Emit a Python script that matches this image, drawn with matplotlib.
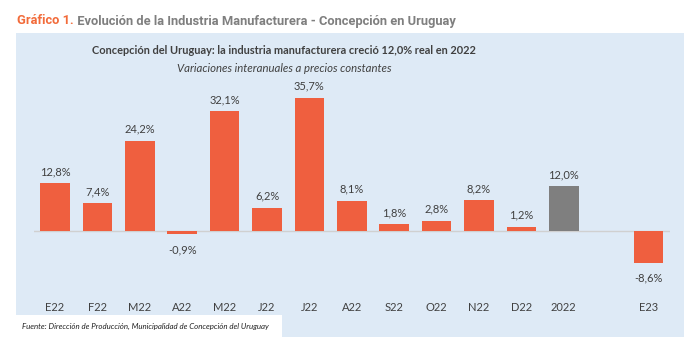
import matplotlib
matplotlib.use("Agg")
import matplotlib.pyplot as plt
from matplotlib.patches import Rectangle

categories = ["E22", "F22", "M22", "A22", "M22", "J22", "J22", "A22", "S22", "O22", "N22", "D22", "2022", "", "E23"]
values = [12.8, 7.4, 24.2, -0.9, 32.1, 6.2, 35.7, 8.1, 1.8, 2.8, 8.2, 1.2, 12.0, None, -8.6]
labels = ["12,8%", "7,4%", "24,2%", "-0,9%", "32,1%", "6,2%", "35,7%", "8,1%", "1,8%", "2,8%", "8,2%", "1,2%", "12,0%", "", "-8,6%"]

ORANGE = "#EF5F3F"
GRAY = "#7F7F7F"
PANEL = "#DEEAF6"
TXT = "#404040"
FONT = ["Lato", "DejaVu Sans"]
TFONT = ["Roboto", "DejaVu Sans"]

W, H = 684, 347
fig = plt.figure(figsize=(W / 100, H / 100), dpi=100)
fig.patch.set_facecolor("white")

def fx(px):
    return px / W

def fy(py):
    return 1 - py / H

# panel
fig.patches.append(Rectangle((fx(16), fy(337)), fx(684) - fx(16), fy(33) - fy(337),
                             transform=fig.transFigure, facecolor=PANEL, edgecolor="none", zorder=-2))
# source box
fig.patches.append(Rectangle((fx(16), fy(337)), fx(282) - fx(16), fy(315) - fy(337),
                             transform=fig.transFigure, facecolor="white", edgecolor="none", zorder=-1))

# axes
left, right = 33.8, 669.8
top_y, bot_y = 231 - 3.73 * 38, 231 + 3.73 * 16
ax = fig.add_axes([fx(left), fy(bot_y), fx(right) - fx(left), fy(top_y) - fy(bot_y)])
ax.set_zorder(1)
ax.set_facecolor("none")
ax.set_xlim(-0.5, len(categories) - 0.5)
ax.set_ylim(-16, 38)

xs = list(range(len(categories)))
for i, (v, lab) in enumerate(zip(values, labels)):
    if v is None:
        continue
    col = GRAY if categories[i] == "2022" else ORANGE
    ax.bar(i, v, width=0.7, color=col, zorder=3)
    if v >= 0:
        ax.annotate(lab, (i, v), xytext=(0, 8.5), textcoords="offset points",
                    ha="center", va="center", fontsize=8, color=TXT, family=FONT)
    else:
        ax.annotate(lab, (i, v), xytext=(0, -11), textcoords="offset points",
                    ha="center", va="center", fontsize=8, color=TXT, family=FONT)

ax.axhline(0, color="#D0D0D0", lw=1, zorder=2)
ax.set_xticks(xs)
ax.set_xticklabels(categories, fontsize=8, color=TXT, family=FONT)
ax.tick_params(axis="x", length=0, pad=8)
ax.set_yticks([])
for s in ax.spines.values():
    s.set_visible(False)

# titles
t1 = fig.text(fx(17), fy(21), "Gráfico 1.", fontsize=9.3, fontweight="bold",
              color="#F26B3A", family=TFONT, va="center")
ax.annotate(" Evolución de la Industria Manufacturera - Concepción en Uruguay", xy=(1, 0.5),
            xycoords=t1, va="center", ha="left", fontsize=9.3, fontweight="bold",
            color=GRAY, family=TFONT, annotation_clip=False)

fig.text(fx(284), fy(50), "Concepción del Uruguay: la industria manufacturera creció 12,0% real en 2022",
         ha="center", va="center", fontsize=7.9, fontweight="bold", color=TXT, family=FONT)
fig.text(fx(284), fy(69), "Variaciones interanuales a precios constantes",
         ha="center", va="center", fontsize=8.2, style="italic", color=TXT, family=FONT)

fig.text(fx(22), fy(326), "Fuente: Dirección de Producción, Municipalidad de Concepción del Uruguay",
         ha="left", va="center", fontsize=5.7, style="italic", color="#222222", family=FONT, zorder=5)

fig.savefig("out.png", dpi=100)
